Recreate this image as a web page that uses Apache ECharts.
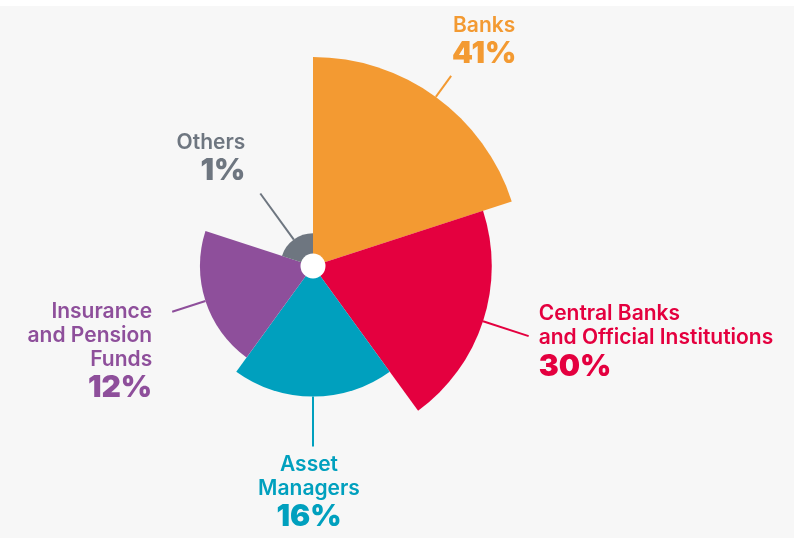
<!DOCTYPE html>
<html><head><meta charset="utf-8">
<script src="https://cdn.jsdelivr.net/npm/echarts@6/dist/echarts.min.js"></script>
<style>html,body{margin:0;padding:0;background:#fff;} #c{width:794px;height:532px;margin-top:6px;}</style>
</head><body><div id="c"></div>
<script>
// ---- data ----
const categories = ['Banks', 'Central Banks\nand Official Institutions', 'Asset\nManagers', 'Insurance\nand Pension\nFunds', 'Others'];
const shares = [41, 30, 16, 12, 1];            // percent
const shareLabels = ['41%', '30%', '16%', '12%', '1%'];

// ---- styles ----
const colors = ['#F39A32', '#E4003F', '#00A0BE', '#8E4F9B', '#6E7680'];
const lineLen = [26, 48, 50, 35, 57];
const labelPlace = [
  {dx: 33, dy: -5, align: 'center', verticalAlign: 'bottom'},
  {dx: 10, dy: -34, align: 'left', verticalAlign: 'top'},
  {dx: -4, dy: 6, align: 'center', verticalAlign: 'top'},
  {dx: -20, dy: -12, align: 'right', verticalAlign: 'top'},
  {dx: -15, dy: -6, align: 'right', verticalAlign: 'bottom'}
];
const FONT = 'Inter, "Open Sans", Lato, sans-serif';

const chart = echarts.init(document.getElementById('c'), null, {renderer: 'canvas'});

// area-proportional rose: radius ~ sqrt(share)
const data = categories.map((name, i) => {
  const rich = {
    n: {fontFamily: FONT, fontSize: 21, fontWeight: 600, lineHeight: 24, color: colors[i], align: labelPlace[i].align},
    p: {fontFamily: FONT, fontSize: 30, fontWeight: 900, lineHeight: 33, color: colors[i], align: labelPlace[i].align}
  };
  const nameLines = name.split('\n').map(s => '{n|' + s + '}').join('\n');
  return {
    name: name,
    value: Math.sqrt(shares[i]),
    itemStyle: {color: colors[i]},
    label: {formatter: nameLines + '\n{p|' + shareLabels[i] + '}', rich: rich, align: labelPlace[i].align},
    labelLine: {length: lineLen[i], length2: 0, lineStyle: {color: colors[i], width: 2}}
  };
});

chart.setOption({
  backgroundColor: '#f7f7f7',
  animation: false,
  series: [
    {
      type: 'pie',
      roseType: 'area',
      center: [313, 260],
      radius: [0, 209],
      startAngle: 90,
      clockwise: true,
      avoidLabelOverlap: false,
      label: {show: true, position: 'outside'},
      labelLine: {show: true, smooth: false},
      labelLayout: function (params) {
        const i = params.dataIndex;
        const pts = params.labelLinePoints;
        if (!pts) return {};
        const p0 = pts[0], q = pts[1];
        const vx = q[0] - p0[0], vy = q[1] - p0[1];
        const d = Math.sqrt(vx * vx + vy * vy) || 1;
        const p1 = [p0[0] + vx / d * lineLen[i], p0[1] + vy / d * lineLen[i]];
        const pl = labelPlace[i];
        return {
          x: p1[0] + pl.dx,
          y: p1[1] + pl.dy,
          align: pl.align,
          verticalAlign: pl.verticalAlign,
          labelLinePoints: [p0, p1, p1]
        };
      },
      data: data,
      z: 2
    },
    {
      type: 'pie',
      center: [313, 260],
      radius: [0, 12.5],
      silent: true,
      label: {show: false},
      labelLine: {show: false},
      data: [{value: 1, itemStyle: {color: '#ffffff'}}],
      z: 5
    }
  ]
});
</script></body></html>
